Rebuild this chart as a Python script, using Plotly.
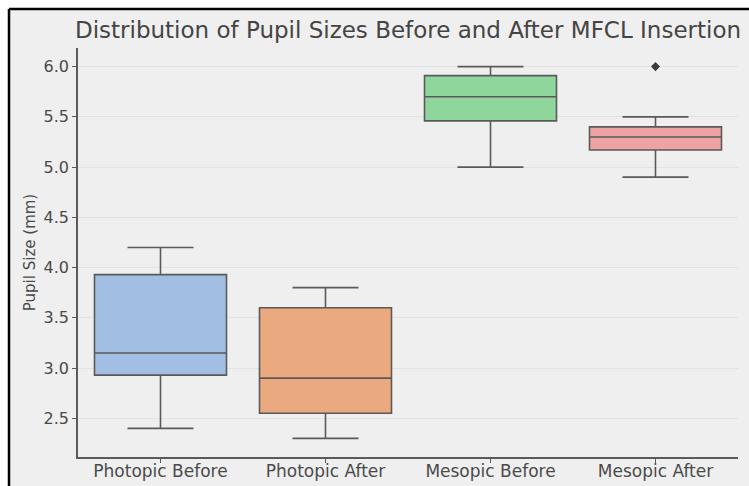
import plotly.graph_objects as go

categories = ["Photopic Before", "Photopic After", "Mesopic Before", "Mesopic After"]
q1 = [2.93, 2.55, 5.46, 5.17]
median = [3.15, 2.90, 5.70, 5.30]
q3 = [3.93, 3.60, 5.91, 5.40]
lower_whisker = [2.40, 2.30, 5.00, 4.90]
upper_whisker = [4.20, 3.80, 6.00, 5.50]
outlier_cats = ["Mesopic After"]
outlier_vals = [6.00]
colors = ["#a2bfe3", "#eaa97f", "#8fd69d", "#eca3a1"]

EDGE = "#5a5a5a"
BG = "#efefef"

W, H = 749, 486
L, R, T, B = 78, 11, 48, 29
PW, PH = W - L - R, H - T - B


def px_x(p):
    return (p - L) / PW


def px_y(p):
    return (H - B - p) / PH


fig = go.Figure()
for i, c in enumerate(categories):
    fig.add_trace(go.Box(
        x=[c], q1=[q1[i]], median=[median[i]], q3=[q3[i]],
        lowerfence=[lower_whisker[i]], upperfence=[upper_whisker[i]],
        fillcolor=colors[i], line=dict(color=EDGE, width=1.6),
        width=0.8, whiskerwidth=0.5, boxpoints=False, showlegend=False,
        hoverinfo="skip",
    ))

fig.add_trace(go.Scatter(
    x=outlier_cats, y=outlier_vals, mode="markers",
    marker=dict(symbol="diamond", size=7, color="#3c3c3c"),
    showlegend=False, hoverinfo="skip",
))

fig.update_layout(
    width=W, height=H,
    margin=dict(l=L, r=R, t=T, b=B, autoexpand=False),
    paper_bgcolor=BG, plot_bgcolor=BG,
    font=dict(family="DejaVu Sans", color="#4a4a4a"),
    title=dict(text="Distribution of Pupil Sizes Before and After MFCL Insertion",
               x=0.5, xref="paper", xanchor="center", y=1 - 30 / H, yref="container",
               yanchor="middle", font=dict(size=23, color="#444444")),
    boxmode="overlay",
    shapes=[
        dict(type="rect", xref="paper", yref="paper", x0=px_x(-2), x1=px_x(8),
             y0=px_y(H + 2), y1=px_y(-2), fillcolor="white", line=dict(width=0), layer="below"),
        dict(type="rect", xref="paper", yref="paper", x0=px_x(-2), x1=px_x(W + 2),
             y0=px_y(8), y1=px_y(-2), fillcolor="white", line=dict(width=0), layer="below"),
        dict(type="line", xref="paper", yref="paper", x0=px_x(9), x1=px_x(9),
             y0=px_y(H + 2), y1=px_y(9), line=dict(color="black", width=2.5)),
        dict(type="line", xref="paper", yref="paper", x0=px_x(9), x1=px_x(W + 2),
             y0=px_y(9), y1=px_y(9), line=dict(color="black", width=2.5)),
    ],
)

fig.update_xaxes(
    type="category", range=[-0.5, 3.5], showgrid=False, automargin=False,
    showline=True, linecolor=EDGE, linewidth=1.5,
    ticks="outside", ticklen=4, tickcolor=EDGE, ticklabelstandoff=-6,
    tickfont=dict(size=17, color="#4a4a4a"), zeroline=False,
)
fig.update_yaxes(
    range=[2.115, 6.185], tickvals=[2.5, 3.0, 3.5, 4.0, 4.5, 5.0, 5.5, 6.0],
    ticktext=["2.5", "3.0", "3.5", "4.0", "4.5", "5.0", "5.5", "6.0"],
    showgrid=True, gridcolor="#e2e2e2", gridwidth=1, automargin=False,
    showline=True, linecolor=EDGE, linewidth=1.5,
    ticks="outside", ticklen=4, tickcolor=EDGE,
    tickfont=dict(size=16, color="#4a4a4a"), zeroline=False,
    title=dict(text="Pupil Size (mm)", font=dict(size=15, color="#4a4a4a"), standoff=4),
)

fig.write_html(
    "out.html",
    config={"displayModeBar": False},
    post_script="document.body.style.margin='0px';document.documentElement.style.overflow='hidden';",
)
